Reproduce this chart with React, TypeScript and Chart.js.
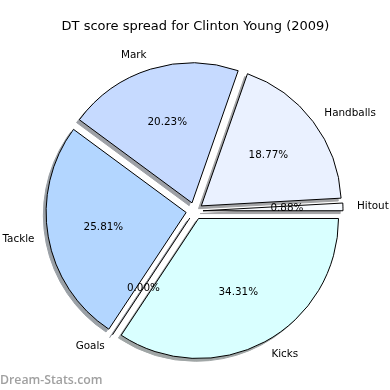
import React, { useEffect, useRef } from "react";
import { Chart, registerables } from "chart.js";

Chart.register(...registerables);

const TITLE = "DT score spread for Clinton Young (2009)";
const WATERMARK = "Dream-Stats.com";
const categories = ["Kicks", "Goals", "Tackle", "Mark", "Handballs", "Hitout"];
const shares = [34.31, 0.0, 25.81, 20.23, 18.77, 0.88];
const sliceColors = ["#d9ffff", "#b3d4ff", "#b3d6ff", "#c6daff", "#eaf1ff", "#f8fbff"];

const EXPLODE = 8.5;
const SHADOW_DX = -2.8;
const SHADOW_DY = 2.8;
const FONT = '10.4px "DejaVu Sans"';
const TITLE_FONT = '13px "DejaVu Sans"';

function shadowOf(hex: string): string {
  const n = parseInt(hex.slice(1), 16);
  const r = (n >> 16) & 255, g = (n >> 8) & 255, b = n & 255;
  const f = (c: number) => Math.round(0.5 * 255 + 0.5 * 0.3 * c);
  return `rgb(${f(r)},${f(g)},${f(b)})`;
}

const piePlugin = {
  id: "explodedPie",
  beforeDatasetDraw(chart: any, args: any) {
    const ctx: CanvasRenderingContext2D = chart.ctx;
    const meta = chart.getDatasetMeta(args.index);
    // shadows
    meta.data.forEach((el: any, i: number) => {
      const mid = (el.startAngle + el.endAngle) / 2;
      const dx = Math.cos(mid) * EXPLODE + SHADOW_DX;
      const dy = Math.sin(mid) * EXPLODE + SHADOW_DY;
      const col = shadowOf(sliceColors[i]);
      ctx.save();
      ctx.translate(dx, dy);
      ctx.beginPath();
      ctx.moveTo(el.x, el.y);
      ctx.arc(el.x, el.y, el.outerRadius, el.startAngle, el.endAngle);
      ctx.closePath();
      ctx.fillStyle = col;
      ctx.strokeStyle = col;
      ctx.lineWidth = 1;
      ctx.fill();
      ctx.stroke();
      ctx.restore();
    });
    // slices
    meta.data.forEach((el: any) => {
      const mid = (el.startAngle + el.endAngle) / 2;
      const dx = Math.cos(mid) * EXPLODE;
      const dy = Math.sin(mid) * EXPLODE;
      ctx.save();
      ctx.translate(dx, dy);
      if (el.circumference > 0) {
        el.draw(ctx);
      } else {
        ctx.beginPath();
        ctx.moveTo(el.x, el.y);
        ctx.lineTo(el.x + Math.cos(el.startAngle) * el.outerRadius, el.y + Math.sin(el.startAngle) * el.outerRadius);
        ctx.strokeStyle = "#000";
        ctx.lineWidth = 1;
        ctx.stroke();
      }
      ctx.restore();
    });
    return false;
  },
  afterDatasetsDraw(chart: any) {
    const ctx: CanvasRenderingContext2D = chart.ctx;
    const meta = chart.getDatasetMeta(0);
    const total = shares.reduce((a, b) => a + b, 0);
    ctx.save();
    ctx.fillStyle = "#000";
    ctx.font = FONT;
    ctx.textBaseline = "middle";
    meta.data.forEach((el: any, i: number) => {
      const mid = (el.startAngle + el.endAngle) / 2;
      const cx = el.x + Math.cos(mid) * EXPLODE;
      const cy = el.y + Math.sin(mid) * EXPLODE;
      const R = el.outerRadius;
      const lx = cx + Math.cos(mid) * R * 1.1;
      const ly = cy + Math.sin(mid) * R * 1.1;
      ctx.textAlign = lx - el.x > 0 ? "left" : "right";
      ctx.fillText(String(chart.data.labels[i]), lx, ly);
      const px = cx + Math.cos(mid) * R * 0.6;
      const py = cy + Math.sin(mid) * R * 0.6;
      ctx.textAlign = "center";
      ctx.fillText(((shares[i] / total) * 100).toFixed(2) + "%", px, py);
    });
    ctx.restore();
  },
  afterDraw(chart: any) {
    const ctx: CanvasRenderingContext2D = chart.ctx;
    ctx.save();
    ctx.fillStyle = "#000";
    ctx.font = TITLE_FONT;
    ctx.textAlign = "center";
    ctx.textBaseline = "alphabetic";
    ctx.fillText(TITLE, 195.5, 30);
    ctx.fillStyle = "#a0a0a0";
    ctx.font = '600 12.3px "Open Sans"';
    ctx.textAlign = "left";
    ctx.fillText(WATERMARK, 0, 384);
    ctx.restore();
  },
};

export default function App() {
  const ref = useRef<HTMLCanvasElement>(null);
  useEffect(() => {
    const chart = new Chart(ref.current as HTMLCanvasElement, {
      type: "pie",
      data: {
        labels: categories,
        datasets: [
          {
            data: shares,
            backgroundColor: sliceColors,
            borderColor: "#000",
            borderWidth: 1,
            hoverBorderWidth: 1,
            offset: 0,
            hoverOffset: 0,
            borderJoinStyle: "miter",
          } as any,
        ],
      },
      options: {
        responsive: false,
        animation: false,
        devicePixelRatio: 1,
        rotation: 90,
        events: [],
        layout: { padding: { left: 54, right: 55, top: 70.5, bottom: 38.5 } },
        plugins: {
          legend: { display: false },
          tooltip: { enabled: false },
          title: { display: false },
        },
      },
      plugins: [piePlugin as any],
    });
    return () => chart.destroy();
  }, []);
  return (
    <div style={{ position: "fixed", left: 0, top: 0, width: 390, height: 390, background: "#fff" }}>
      <canvas ref={ref} width={390} height={390} style={{ width: 390, height: 390, display: "block" }} />
    </div>
  );
}
